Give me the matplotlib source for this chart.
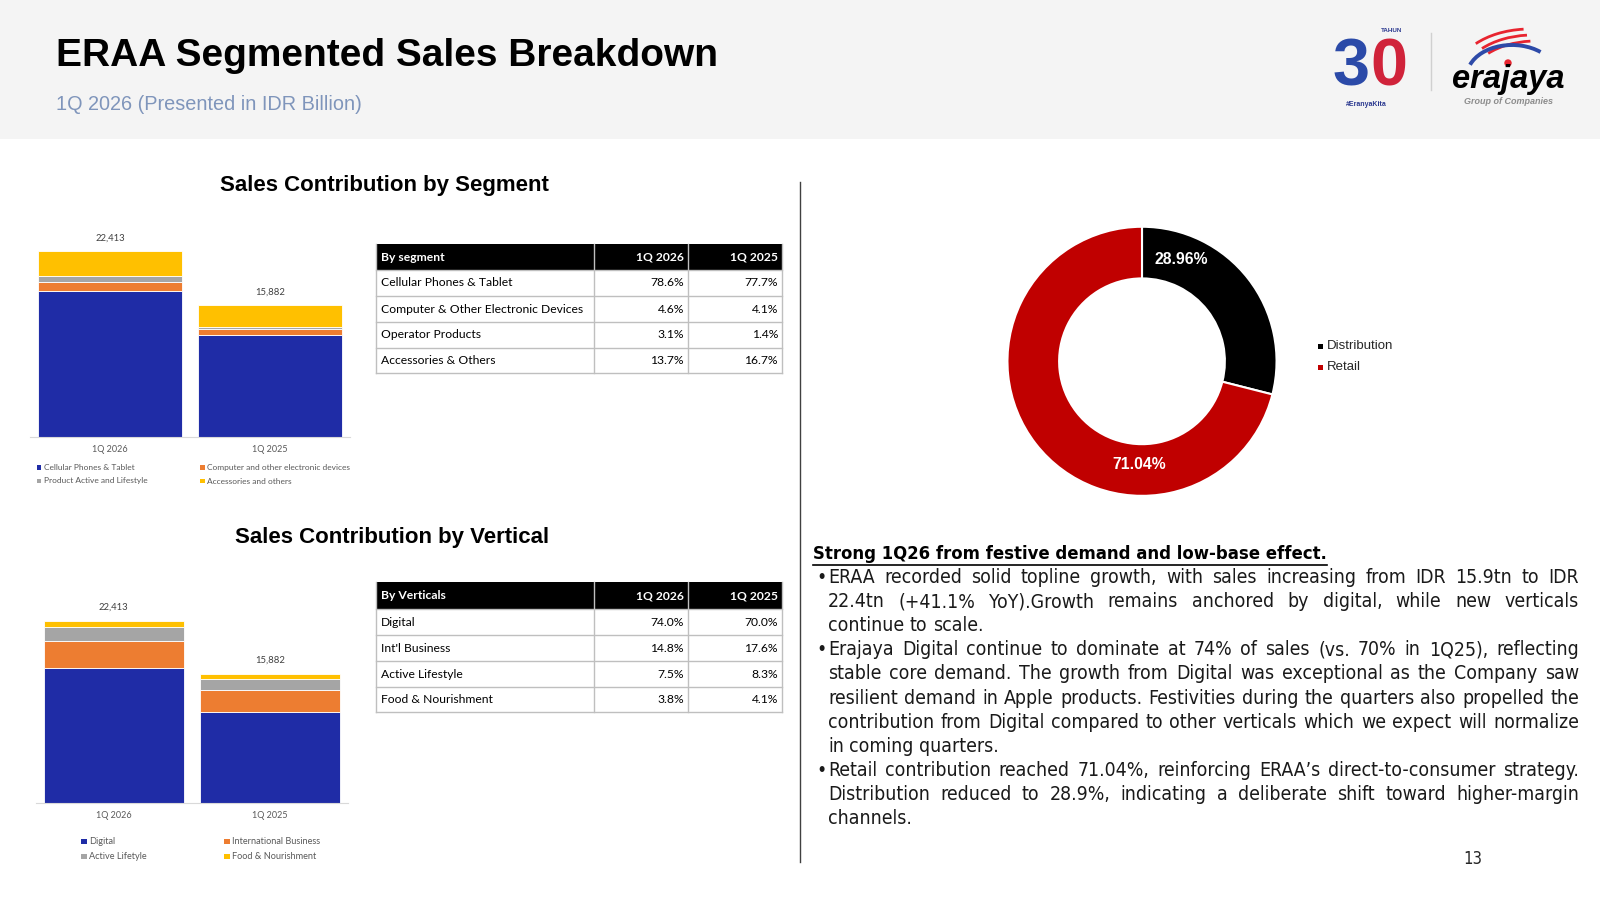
import numpy as np
import matplotlib
matplotlib.use('Agg')
import matplotlib.pyplot as plt
from matplotlib.patches import Rectangle, Arc, Circle
from matplotlib import font_manager

# ---- data (IDR billion) ----
periods = ['1Q 2026', '1Q 2025']
totals = [22413, 15882]

segment_names = ['Cellular Phones & Tablet', 'Computer and other electronic devices',
                 'Product Active and Lifestyle', 'Accessories and others']
seg_cellular = [17617, 12340]
seg_computer = [1031, 651]
seg_active = [695, 222]
seg_accessories = [3070, 2669]

vertical_names = ['Digital', 'International Business', 'Active Lifetyle', 'Food & Nourishment']
vert_digital = [16586, 11117]
vert_intl = [3317, 2795]
vert_active = [1681, 1318]
vert_food = [829, 652]

seg_table_head = ['By segment', '1Q 2026', '1Q 2025']
seg_table_rows = ['Cellular Phones & Tablet', 'Computer & Other Electronic Devices',
                  'Operator Products', 'Accessories & Others']
seg_table_2026 = ['78.6%', '4.6%', '3.1%', '13.7%']
seg_table_2025 = ['77.7%', '4.1%', '1.4%', '16.7%']

vert_table_head = ['By Verticals', '1Q 2026', '1Q 2025']
vert_table_rows = ['Digital', "Int'l Business", 'Active Lifestyle', 'Food & Nourishment']
vert_table_2026 = ['74.0%', '14.8%', '7.5%', '3.8%']
vert_table_2025 = ['70.0%', '17.6%', '8.3%', '4.1%']

channel_names = ['Distribution', 'Retail']
channel_share = [28.96, 71.04]

heading = 'Strong 1Q26 from festive demand and low-base effect.'
bullets = [
    ['ERAA recorded solid topline growth, with sales increasing from IDR 15.9tn to IDR',
     '22.4tn (+41.1% YoY).Growth remains anchored by digital, while new verticals',
     'continue to scale.'],
    ['Erajaya Digital continue to dominate at 74% of sales (vs. 70% in 1Q25), reflecting',
     'stable core demand. The growth from Digital was exceptional as the Company saw',
     'resilient demand in Apple products. Festivities during the quarters also propelled the',
     'contribution from Digital compared to other verticals which we expect will normalize',
     'in coming quarters.'],
    ['Retail contribution reached 71.04%, reinforcing ERAA\u2019s direct-to-consumer strategy.',
     'Distribution reduced to 28.9%, indicating a deliberate shift toward higher-margin',
     'channels.'],
]

BAR_COLORS = ['#1F2CA6', '#ED7D31', '#A5A5A5', '#FFC000']
W, H = 1600, 900
ARIAL = 'Liberation Sans'
CAL = 'Lato'

# pick a narrow/condensed sans face for the commentary if one is installed
BODY_FONT, BODY_STRETCH = ARIAL, 'normal'
ttf = font_manager.fontManager.ttflist
names = {f.name for f in ttf}
for pref in ['Liberation Sans Narrow', 'Arial Narrow']:
    if pref in names:
        BODY_FONT = pref
        break
else:
    for f in ttf:
        st = f.stretch
        cond = ('Narrow' in f.name or 'Condensed' in f.name or
                st in ('condensed', 'semi-condensed') or (isinstance(st, int) and st < 500))
        if cond and 'Sans' in f.name and 'Mono' not in f.name:
            BODY_FONT = f.name
            BODY_STRETCH = st if isinstance(st, str) else 'condensed'
            break

fig = plt.figure(figsize=(16, 9), dpi=100)
fig.patch.set_facecolor('white')

# full-slide overlay in pixel coordinates (y pointing down)
ov = fig.add_axes([0, 0, 1, 1], zorder=0)
ov.set_xlim(0, W)
ov.set_ylim(H, 0)
ov.axis('off')
renderer = fig.canvas.get_renderer()


def px_axes(left, top, width, height):
    return fig.add_axes([left / W, 1 - (top + height) / H, width / W, height / H], zorder=2)


def text_width(s, **kw):
    t = ov.text(0, 0, s, **kw)
    w = t.get_window_extent(renderer).width
    t.remove()
    return w


# ---- header ----
ov.add_patch(Rectangle((0, 0), W, 139, color='#f4f4f4', lw=0))
ov.text(56, 56, 'ERAA Segmented Sales Breakdown', family=ARIAL, fontsize=28,
        fontweight='bold', va='center', ha='left', color='black')
ov.text(56, 104, '1Q 2026 (Presented in IDR Billion)', family=ARIAL, fontsize=14.3,
        va='center', ha='left', color='#7f95bb')

# logo (approximation); y axis is inverted, so arc angles are mirrored
ov.text(1370, 86, '3', family=ARIAL, fontsize=48, fontweight='bold', color='#2b4aa8',
        ha='right', va='baseline')
ov.text(1370, 86, '0', family=ARIAL, fontsize=48, fontweight='bold', color='#d0233a',
        ha='left', va='baseline')
ov.text(1392, 31, 'TAHUN', family=ARIAL, fontsize=4.5, fontweight='bold', color='#2b3990',
        ha='center', va='center')
ov.text(1366, 104, '#EranyaKita', family=ARIAL, fontsize=5, fontweight='bold', color='#2b3990',
        ha='center', va='center')
ov.plot([1431, 1431], [33, 90], color='#d0d0d0', lw=1)
for i in range(3):
    ov.add_patch(Arc((1530 + i * 3, 75 + i * 3), 148 - i * 8, 92 - i * 6, theta1=210, theta2=262,
                     color='#e8242f', lw=2.0))
ov.add_patch(Arc((1512, 76), 90, 62, theta1=195, theta2=320, color='#2d4aa8', lw=2.8))
ov.add_patch(Circle((1508, 63), 3, color='#e8242f'))
ov.text(1508, 88, 'erajaya', family=ARIAL, fontsize=23.5, fontweight='bold', style='italic',
        color='black', ha='center', va='baseline')
ov.text(1509, 101, 'Group of Companies', family=ARIAL, fontsize=6.5, fontweight='bold',
        style='italic', color='#8c8c8c', ha='center', va='center')

# ---- section titles ----
ov.text(384, 186, 'Sales Contribution by Segment', family=ARIAL, fontsize=16,
        fontweight='bold', ha='center', va='center')
ov.text(392, 538, 'Sales Contribution by Vertical', family=ARIAL, fontsize=16,
        fontweight='bold', ha='center', va='center')


def stacked(ax, layers):
    x = np.arange(len(periods))
    bottom = np.zeros(len(periods))
    for vals, c in zip(layers, BAR_COLORS):
        ax.bar(x, vals, 0.9, bottom=bottom, color=c, edgecolor='white', linewidth=0.6)
        bottom += np.array(vals)
    for xi, tot in zip(x, totals):
        ax.annotate(f'{tot:,}', (xi, tot), xytext=(0, 9.5), textcoords='offset points',
                    ha='center', va='center', family=CAL, fontsize=6.8, color='#404040')
    ax.set_xlim(-0.5, 1.5)
    ax.set_ylim(0, 25000)
    ax.set_xticks(x)
    ax.set_xticklabels(periods, family=CAL, fontsize=6.5, color='#595959')
    ax.tick_params(axis='x', length=0, pad=6)
    ax.set_yticks([])
    for s in ['top', 'left', 'right']:
        ax.spines[s].set_visible(False)
    ax.spines['bottom'].set_color('#d9d9d9')
    ax.patch.set_alpha(0)


ax1 = px_axes(30, 229.5, 320, 207.5)
stacked(ax1, [seg_cellular, seg_computer, seg_active, seg_accessories])
ax2 = px_axes(35.7, 599.7, 312, 203)
stacked(ax2, [vert_digital, vert_intl, vert_active, vert_food])


def legend(names_, xs, ys, sq, size):
    for i, (n, c) in enumerate(zip(names_, BAR_COLORS)):
        x = xs[i % 2]
        y = ys[i // 2]
        ov.add_patch(Rectangle((x, y - sq / 2), sq, sq, color=c, lw=0))
        ov.text(x + sq + 2.5, y, n, family=CAL, fontsize=size, color='#595959',
                ha='left', va='center')


legend(segment_names, [36.7, 200], [467.3, 481], 4.5, 6)
legend(vertical_names, [81, 224], [841.7, 856.7], 5.5, 6.6)


# ---- tables ----
def table(ys, head, rows, c1, c2, size=8.7):
    xs = [376, 594, 688, 782]
    ov.add_patch(Rectangle((xs[0], ys[0]), xs[3] - xs[0], ys[1] - ys[0], color='black', lw=0))
    for y in ys[1:]:
        ov.plot([xs[0], xs[3]], [y, y], color='#bfbfbf', lw=1)
    for x in xs:
        ov.plot([x, x], [ys[0], ys[-1]], color='#bfbfbf', lw=1)
    yc = (ys[0] + ys[1]) / 2
    ov.text(xs[0] + 5, yc, head[0], family=CAL, fontsize=size, fontweight='bold',
            color='white', ha='left', va='center')
    ov.text(xs[2] - 4, yc, head[1], family=CAL, fontsize=size, fontweight='bold',
            color='white', ha='right', va='center')
    ov.text(xs[3] - 4, yc, head[2], family=CAL, fontsize=size, fontweight='bold',
            color='white', ha='right', va='center')
    for i, (r, a, b) in enumerate(zip(rows, c1, c2)):
        yc = (ys[i + 1] + ys[i + 2]) / 2
        ov.text(xs[0] + 5, yc, r, family=CAL, fontsize=size, color='black', ha='left', va='center')
        ov.text(xs[2] - 4, yc, a, family=CAL, fontsize=size, color='black', ha='right', va='center')
        ov.text(xs[3] - 4, yc, b, family=CAL, fontsize=size, color='black', ha='right', va='center')


table([244.3, 270, 296, 322.3, 347.7, 373.3], seg_table_head, seg_table_rows,
      seg_table_2026, seg_table_2025)
table([582.3, 609.3, 635, 661, 687, 712.3], vert_table_head, vert_table_rows,
      vert_table_2026, vert_table_2025)

# divider
ov.plot([800, 800], [182, 862], color='#404040', lw=1)

# ---- donut ----
axd = px_axes(1142 - 148, 361.3 - 148, 296, 296)
axd.pie(channel_share, colors=['#000000', '#C00000'], startangle=90, counterclock=False,
        radius=1, wedgeprops=dict(width=0.384, edgecolor='white', linewidth=1.5))
axd.set_xlim(-1.1, 1.1)
axd.set_ylim(-1.1, 1.1)
axd.set_aspect('equal')
axd.axis('off')
label_pos = [(0.29, 0.76), (-0.02, -0.77)]
for (lx, ly), v in zip(label_pos, channel_share):
    axd.text(lx, ly, f'{v:.2f}%', family=ARIAL, fontsize=11.3, fontweight='bold',
             color='white', ha='center', va='center')
for i, (n, c) in enumerate(zip(channel_names, ['#000000', '#C00000'])):
    y = 346 + i * 21
    ov.add_patch(Rectangle((1318, y - 2.5), 5, 5, color=c, lw=0))
    ov.text(1327, y, n, family=ARIAL, fontsize=9.5, color='#262626', ha='left', va='center')

# ---- commentary text (justified by hand) ----
x0, x1 = 828, 1579
base = dict(family=BODY_FONT, fontstretch=BODY_STRETCH, fontsize=14)
full_lines = [ln for para in bullets for ln in para[:-1]]
widest = max(text_width(ln, **base) for ln in full_lines)
body_size = min(14.4, 14 * (x1 - x0) / widest * 0.995)
body_kw = dict(family=BODY_FONT, fontstretch=BODY_STRETCH, fontsize=body_size, color='#1a1a1a')
space_w = text_width('a a', **body_kw) - text_width('aa', **body_kw)

hx, hw_target = 813, 517
head_kw = dict(family=BODY_FONT, fontstretch=BODY_STRETCH, fontweight='bold')
hsize = min(15.5, 14 * hw_target / text_width(heading, fontsize=14, **head_kw))
ht = ov.text(hx, 554, heading, fontsize=hsize, color='black', ha='left', va='center', **head_kw)
hw = ht.get_window_extent(renderer).width
ov.plot([hx, hx + hw], [564.5, 564.5], color='black', lw=1.2)

line_i = 0
for para in bullets:
    for j, line in enumerate(para):
        y = 577.6 + line_i * 24.08
        if j == 0:
            ov.text(816, y, '\u2022', ha='left', va='center', **body_kw)
        words = line.split(' ')
        texts = [ov.text(0, y, w, ha='left', va='center', **body_kw) for w in words]
        widths = [t.get_window_extent(renderer).width for t in texts]
        last = j == len(para) - 1
        gap = space_w if last or len(words) < 2 else (x1 - x0 - sum(widths)) / (len(words) - 1)
        x = x0
        for t, w in zip(texts, widths):
            t.set_x(x)
            x += w + gap
        line_i += 1

ov.text(1473, 859, '13', family=BODY_FONT, fontstretch=BODY_STRETCH, fontsize=12,
        color='#262626', ha='center', va='center')

fig.savefig('out.png', dpi=100, facecolor='white')
